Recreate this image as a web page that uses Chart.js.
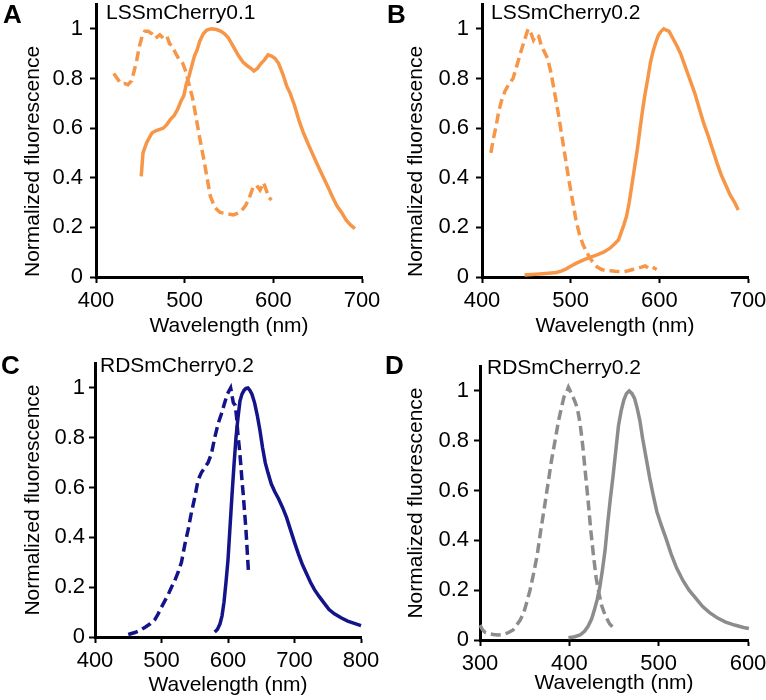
<!DOCTYPE html>
<html>
<head>
<meta charset="utf-8">
<script src="https://cdn.jsdelivr.net/npm/chart.js@4.4.1/dist/chart.umd.min.js"></script>
<style>
  body { margin: 0; background: #fff; font-family: "Liberation Sans", Arial, sans-serif; }
  #fig { position: relative; width: 766px; height: 700px; overflow: hidden; }
  .panel { position: absolute; }
  .letter { position: absolute; font-weight: bold; font-size: 26px; line-height: 1; color: #000; }
  .name { position: absolute; font-size: 21px; line-height: 1; color: #000; white-space: nowrap; }
</style>
</head>
<body>
<div id="fig">
  <canvas id="chart-a" class="panel" width="383" height="340" style="left:0;top:0"></canvas>
  <canvas id="chart-b" class="panel" width="383" height="340" style="left:383px;top:0"></canvas>
  <canvas id="chart-c" class="panel" width="383" height="360" style="left:0;top:340px"></canvas>
  <canvas id="chart-d" class="panel" width="383" height="360" style="left:383px;top:340px"></canvas>

  <div class="letter" style="left:3px;top:1px">A</div>
  <div class="letter" style="left:387px;top:1px">B</div>
  <div class="letter" style="left:1px;top:352px">C</div>
  <div class="letter" style="left:385px;top:352px">D</div>

  <div class="name" style="left:106px;top:1px">LSSmCherry0.1</div>
  <div class="name" style="left:491px;top:1px">LSSmCherry0.2</div>
  <div class="name" style="left:100px;top:354px">RDSmCherry0.2</div>
  <div class="name" style="left:487px;top:356px">RDSmCherry0.2</div>
</div>

<script>
// Panel A - LSSmCherry0.1
const aExWl  = [420, 424, 428, 432, 436, 440, 443, 446, 449, 452, 455, 459, 463, 467, 472, 476, 480, 483, 486, 490, 494, 498, 501, 505, 509, 513, 517, 521, 525, 529, 534, 540, 547, 555, 562, 566, 569, 573, 577, 581, 585, 589, 592, 595, 598];
const aExVal = [0.82, 0.80, 0.78, 0.78, 0.775, 0.79, 0.83, 0.875, 0.93, 0.97, 0.99, 0.99, 0.98, 0.962, 0.976, 0.962, 0.97, 0.94, 0.93, 0.90, 0.875, 0.86, 0.83, 0.775, 0.72, 0.64, 0.56, 0.485, 0.405, 0.325, 0.28, 0.26, 0.255, 0.25, 0.26, 0.275, 0.29, 0.32, 0.36, 0.37, 0.35, 0.38, 0.35, 0.32, 0.31];
const aEmWl  = [451, 453, 457, 460, 463, 468, 472, 476, 480, 484, 488, 492, 496, 499, 502, 505, 508, 511, 514, 517, 521, 525, 530, 536, 541, 545, 549, 553, 557, 561, 566, 571, 575, 578, 582, 586, 590, 594, 598, 602, 606, 611, 615, 619, 624, 629, 634, 640, 645, 650, 656, 662, 667, 672, 677, 682, 687, 692];
const aEmVal = [0.405, 0.50, 0.54, 0.56, 0.58, 0.59, 0.595, 0.60, 0.615, 0.635, 0.65, 0.675, 0.71, 0.73, 0.78, 0.81, 0.85, 0.89, 0.915, 0.95, 0.98, 0.995, 1.0, 0.997, 0.99, 0.98, 0.965, 0.94, 0.915, 0.89, 0.865, 0.85, 0.84, 0.83, 0.84, 0.86, 0.875, 0.895, 0.89, 0.88, 0.86, 0.815, 0.77, 0.74, 0.69, 0.63, 0.58, 0.53, 0.49, 0.45, 0.405, 0.36, 0.32, 0.285, 0.26, 0.23, 0.21, 0.195];

// Panel B - LSSmCherry0.2
const bExWl  = [410, 413, 416, 419, 422, 426, 430, 435, 440, 444, 448, 452, 455, 458, 461, 464, 467, 470, 474, 478, 482, 486, 490, 494, 498, 502, 506, 510, 514, 518, 522, 526, 530, 535, 540, 545, 550, 555, 560, 565, 570, 575, 580, 584, 588, 592, 597];
const bExVal = [0.50, 0.56, 0.61, 0.67, 0.71, 0.75, 0.775, 0.80, 0.86, 0.91, 0.955, 1.0, 0.985, 0.955, 0.975, 0.97, 0.93, 0.91, 0.88, 0.82, 0.74, 0.66, 0.57, 0.48, 0.39, 0.31, 0.23, 0.17, 0.13, 0.10, 0.075, 0.055, 0.04, 0.03, 0.025, 0.025, 0.023, 0.022, 0.022, 0.025, 0.03, 0.035, 0.04, 0.045, 0.035, 0.04, 0.03];
const bEmWl  = [448, 456, 465, 475, 484, 490, 495, 500, 506, 514, 521, 529, 537, 544, 550, 554, 557, 560, 563, 566, 569, 572, 575, 578, 581, 584, 587, 590, 593, 596, 599, 602, 605, 608, 611, 614, 617, 620, 624, 628, 632, 636, 640, 645, 650, 655, 660, 665, 670, 675, 680, 685, 689];
const bEmVal = [0.008, 0.01, 0.012, 0.015, 0.018, 0.025, 0.033, 0.043, 0.055, 0.068, 0.078, 0.088, 0.10, 0.115, 0.135, 0.15, 0.18, 0.21, 0.245, 0.30, 0.37, 0.44, 0.51, 0.59, 0.67, 0.74, 0.80, 0.865, 0.91, 0.945, 0.975, 0.99, 1.0, 0.995, 0.99, 0.97, 0.95, 0.93, 0.90, 0.86, 0.82, 0.78, 0.74, 0.68, 0.62, 0.57, 0.515, 0.46, 0.41, 0.37, 0.33, 0.30, 0.27];

// Panel C - RDSmCherry0.2 (red)
const cExWl  = [450, 460, 468, 476, 483, 490, 495, 500, 505, 510, 515, 520, 525, 530, 535, 540, 545, 550, 555, 560, 565, 570, 575, 580, 585, 590, 595, 599, 602, 604, 606, 608, 611, 613, 615, 617, 619, 621, 623, 625, 627, 629, 631];
const cExVal = [0.01, 0.018, 0.027, 0.04, 0.053, 0.07, 0.093, 0.12, 0.145, 0.17, 0.20, 0.227, 0.26, 0.30, 0.37, 0.43, 0.50, 0.56, 0.63, 0.66, 0.68, 0.70, 0.735, 0.80, 0.855, 0.895, 0.94, 0.975, 0.99, 1.0, 0.97, 0.94, 0.93, 0.88, 0.81, 0.76, 0.70, 0.63, 0.57, 0.50, 0.43, 0.34, 0.25];
const cEmWl  = [580, 584, 588, 591, 594, 597, 600, 603, 606, 609, 612, 615, 618, 621, 624, 627, 630, 633, 636, 640, 644, 648, 652, 656, 660, 665, 670, 676, 682, 688, 694, 700, 706, 712, 718, 724, 730, 737, 744, 752, 760, 770, 780, 790, 800];
const cEmVal = [0.02, 0.03, 0.053, 0.085, 0.14, 0.22, 0.31, 0.44, 0.57, 0.69, 0.80, 0.88, 0.947, 0.975, 0.99, 0.998, 1.0, 0.99, 0.975, 0.94, 0.89, 0.83, 0.76, 0.70, 0.66, 0.615, 0.585, 0.555, 0.52, 0.48, 0.43, 0.38, 0.333, 0.29, 0.255, 0.22, 0.19, 0.163, 0.138, 0.11, 0.093, 0.077, 0.064, 0.055, 0.046];

// Panel D - RDSmCherry0.2 (blue)
const dExWl  = [300, 303, 306, 310, 315, 320, 326, 332, 337, 341, 345, 349, 352, 356, 360, 364, 368, 372, 376, 380, 384, 388, 391, 394, 397, 399, 401, 403, 406, 409, 412, 415, 418, 421, 424, 427, 430, 433, 436, 440, 445, 452];
const dExVal = [0.06, 0.04, 0.03, 0.025, 0.022, 0.02, 0.022, 0.03, 0.04, 0.06, 0.08, 0.11, 0.147, 0.20, 0.267, 0.34, 0.44, 0.53, 0.625, 0.72, 0.80, 0.882, 0.93, 0.976, 0.995, 1.015, 1.0, 0.985, 0.96, 0.93, 0.87, 0.78, 0.67, 0.56, 0.44, 0.34, 0.25, 0.19, 0.14, 0.10, 0.065, 0.04];
const dEmWl  = [399, 406, 412, 417, 421, 425, 428, 431, 434, 437, 440, 443, 446, 449, 452, 455, 458, 461, 464, 467, 470, 473, 476, 479, 482, 486, 490, 494, 498, 503, 508, 514, 520, 527, 534, 541, 549, 557, 566, 575, 585, 595, 601];
const dEmVal = [0.009, 0.013, 0.02, 0.035, 0.055, 0.085, 0.12, 0.16, 0.21, 0.28, 0.36, 0.47, 0.57, 0.66, 0.76, 0.86, 0.92, 0.963, 0.99, 1.0, 0.99, 0.97, 0.93, 0.88, 0.81, 0.73, 0.65, 0.58, 0.515, 0.46, 0.41, 0.345, 0.29, 0.24, 0.20, 0.17, 0.135, 0.11, 0.088, 0.072, 0.06, 0.05, 0.046];

// Axis ranges
const yAxisMax = 1.1;
const yLabelMax = 1;
const xRangeA = [400, 700];
const xRangeB = [400, 700];
const xRangeC = [400, 800];
const xRangeD = [300, 600];

const ORANGE = '#F79646';
const NAVY = '#14148A';
const GREY = '#8C8C8C';
const FONT = '"Liberation Sans", Arial, sans-serif';

function pts(wl, val) {
    return wl.map((w, i) => ({ x: w, y: val[i] }));
}

function makePanel(id, color, ex, em, xRange, lay) {
    const ctx = document.getElementById(id);
    return new Chart(ctx, {
        type: 'scatter',
        data: {
            datasets: [
                {
                    label: 'Excitation',
                    data: pts(ex[0], ex[1]),
                    showLine: true,
                    borderColor: color,
                    borderWidth: 3.5,
                    borderDash: [10, 5],
                    pointRadius: 0,
                    tension: 0,
                    clip: false
                },
                {
                    label: 'Emission',
                    data: pts(em[0], em[1]),
                    showLine: true,
                    borderColor: color,
                    borderWidth: 3.5,
                    pointRadius: 0,
                    tension: 0,
                    clip: false
                }
            ]
        },
        options: {
            responsive: false,
            animation: false,
            devicePixelRatio: 1,
            layout: { padding: { left: 21, right: lay.right, top: lay.top, bottom: 0 } },
            plugins: { legend: { display: false }, tooltip: { enabled: false } },
            scales: {
                x: {
                    type: 'linear',
                    min: xRange[0],
                    max: xRange[1],
                    afterFit: s => { s.height = lay.xh; s.paddingLeft = 0; s.paddingRight = 0; },
                    border: { display: true, color: '#000', width: 3 },
                    grid: { drawOnChartArea: false, drawTicks: true, tickLength: 6, tickWidth: 2, tickColor: '#000' },
                    ticks: { stepSize: 100, padding: 5, color: '#000', font: { family: FONT, size: 22 }, maxRotation: 0 },
                    title: { display: true, text: 'Wavelength (nm)', color: '#000', font: { family: FONT, size: 21 }, padding: { top: 0, bottom: lay.xtPad } }
                },
                y: {
                    type: 'linear',
                    min: 0,
                    max: yAxisMax,
                    bounds: 'data',
                    afterBuildTicks: s => { s.ticks = s.ticks.filter(t => t.value <= yLabelMax + 1e-6); },
                    afterFit: s => { s.width = lay.yw; s.paddingTop = 0; s.paddingBottom = 0; },
                    border: { display: true, color: '#000', width: 3 },
                    grid: { drawOnChartArea: false, drawTicks: true, tickLength: 6, tickWidth: 2, tickColor: '#000' },
                    ticks: {
                        stepSize: 0.2,
                        padding: lay.ytPad,
                        color: '#000',
                        font: { family: FONT, size: 22 },
                        callback: v => String(Math.round(v * 10) / 10)
                    },
                    title: { display: true, text: 'Normalized fluorescence', align: lay.yAlign, color: '#000', font: { family: FONT, size: 21 }, padding: { top: 0, bottom: 0 } }
                }
            }
        }
    });
}

makePanel('chart-a', ORANGE, [aExWl, aExVal], [aEmWl, aEmVal], xRangeA,
    { right: 21, top: 4, yw: 75, xh: 63, xtPad: 1, ytPad: 7, yAlign: 'start' });
makePanel('chart-b', ORANGE, [bExWl, bExVal], [bEmWl, bEmVal], xRangeB,
    { right: 18, top: 4, yw: 78, xh: 63, xtPad: 1, ytPad: 7, yAlign: 'start' });
makePanel('chart-c', NAVY, [cExWl, cExVal], [cEmWl, cEmVal], xRangeC,
    { right: 22, top: 23, yw: 74, xh: 63, xtPad: 2, ytPad: 4, yAlign: 'center' });
makePanel('chart-d', GREY, [dExWl, dExVal], [dEmWl, dEmVal], xRangeD,
    { right: 18, top: 26, yw: 76, xh: 60, xtPad: 4, ytPad: 5, yAlign: 'center' });
</script>
</body>
</html>
